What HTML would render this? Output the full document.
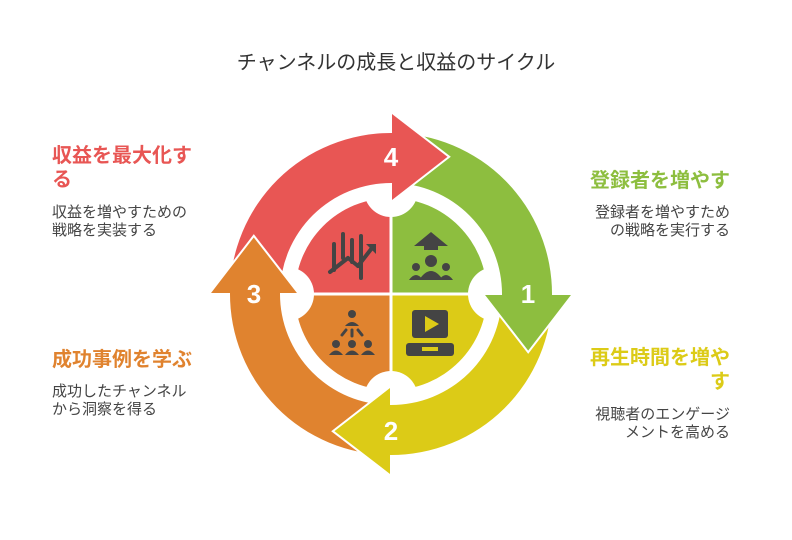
<!DOCTYPE html>
<html><head><meta charset="utf-8"><style>
body{margin:0;width:792px;height:540px;background:#fff;position:relative;overflow:hidden;font-family:"Liberation Sans","Noto Sans CJK JP",sans-serif}
.t{position:absolute;white-space:nowrap}
.h{font-size:20px;font-weight:bold;line-height:24px}
.d{font-size:15px;color:#444;line-height:18px}
.r{text-align:right}
</style></head><body>
<div class="t" style="left:0;width:792px;text-align:center;top:46px;font-size:20px;color:#333">チャンネルの成長と収益のサイクル</div>
<div class="t h" style="left:52px;top:144px;color:#E85654">収益を最大化す<br>る</div>
<div class="t d" style="left:52px;top:204px">収益を増やすための<br>戦略を実装する</div>
<div class="t h" style="left:52px;top:348px;color:#E0832F">成功事例を学ぶ</div>
<div class="t d" style="left:52px;top:383px">成功したチャンネル<br>から洞察を得る</div>
<div class="t h r" style="right:62px;top:169px;color:#8DBE3F">登録者を増やす</div>
<div class="t d r" style="right:62px;top:204px">登録者を増やすため<br>の戦略を実行する</div>
<div class="t h r" style="right:62px;top:346px;color:#DCCB17">再生時間を増や<br>す</div>
<div class="t d r" style="right:62px;top:406px">視聴者のエンゲージ<br>メントを高める</div>
<svg id="s" width="792" height="540" style="position:absolute;left:0;top:0"></svg>
<script>
var cx=391,cy=294,s=document.getElementById('s');
function P(r,a){a=a*Math.PI/180;return (cx+r*Math.cos(a)).toFixed(1)+','+(cy+r*Math.sin(a)).toFixed(1);}
var arr=[['#8DBE3F',0,'1'],['#DCCB17',90,'2'],['#E0832F',180,'3'],['#E85654',270,'4']];
var bodies='',heads='',nums='';
arr.forEach(function(a){var c=a[0],b=a[1],st=b-90;
bodies+='<path fill="'+c+'" d="M'+P(161,st)+' A161,161 0 0 1 '+P(161,b+0.5)+' L'+P(111,b+0.5)+' A111,111 0 0 0 '+P(111,st)+'Z"/>';
heads+='<path fill="'+c+'" stroke="#fff" stroke-width="2" stroke-linejoin="miter" d="M'+P(111,b)+' L'+P(92,b)+' L'+P(149,b+23)+' L'+P(182,b)+' L'+P(161,b)+'"/>';
var p=P(137,b).split(',');
nums+='<text x="'+p[0]+'" y="'+(+p[1]+9)+'" text-anchor="middle" font-size="26" font-weight="bold" fill="#fff" font-family="Liberation Sans">'+a[2]+'</text>';
});
var q='';
[['#8DBE3F',-90,0],['#DCCB17',0,90],['#E0832F',90,180],['#E85654',180,270]].forEach(function(a){
q+='<path fill="'+a[0]+'" d="M'+cx+','+cy+' L'+P(96,a[1])+' A96,96 0 0 1 '+P(96,a[2])+'Z"/>';});
q+='<rect x="'+(cx-1.5)+'" y="190" width="3" height="210" fill="#fff"/><rect x="285" y="'+(cy-1.5)+'" width="212" height="3" fill="#fff"/>';
[0,90,180,270].forEach(function(b){var p=P(104,b).split(',');q+='<circle cx="'+p[0]+'" cy="'+p[1]+'" r="27" fill="#fff"/>';});
var ic='<g fill="#444" stroke="#444">'+
'<g stroke-width="4" stroke-linecap="round"><line x1="334" y1="244" x2="334" y2="270"/><line x1="343" y1="234" x2="343" y2="258"/><line x1="352" y1="240" x2="352" y2="262"/><line x1="361" y1="236" x2="361" y2="278"/><line x1="330" y1="272" x2="348" y2="258"/><line x1="348" y1="258" x2="358" y2="266"/><line x1="358" y1="266" x2="372" y2="248"/></g>'+
'<path stroke="none" d="M366,244 L376,244 L376,254Z"/>'+
'<path stroke="none" d="M414,246 L431,232 L448,246 L438,246 L438,250 L424,250 L424,246Z"/><circle cx="431" cy="261" r="6" stroke="none"/><path stroke="none" d="M419,280 Q431,262 443,280Z"/><circle cx="416" cy="267" r="4" stroke="none"/><circle cx="446" cy="267" r="4" stroke="none"/><path stroke="none" d="M409,280 Q416,270 423,280Z M439,280 Q446,270 453,280Z"/>'+
'<rect x="412" y="310" width="36" height="28" rx="3" stroke="none"/><path fill="#DCCB17" stroke="none" d="M425,316 L439,324 L425,332Z"/><rect x="406" y="343" width="48" height="13" rx="3" stroke="none"/><rect x="422" y="347" width="16" height="4" fill="#DCCB17" stroke="none"/>'+
'<circle cx="352" cy="314" r="4" stroke="none"/><path stroke="none" d="M345,326 Q352,318 359,326Z"/><circle cx="336" cy="344" r="4" stroke="none"/><circle cx="352" cy="344" r="4" stroke="none"/><circle cx="368" cy="344" r="4" stroke="none"/><path stroke="none" d="M329,355 Q336,346 343,355Z M345,355 Q352,346 359,355Z M361,355 Q368,346 375,355Z"/><g stroke-width="3" stroke-linecap="round"><line x1="346" y1="330" x2="342" y2="335"/><line x1="352" y1="330" x2="352" y2="336"/><line x1="358" y1="330" x2="362" y2="335"/></g></g>';
s.innerHTML=q+ic+bodies+heads+nums;
</script>
</body></html>
